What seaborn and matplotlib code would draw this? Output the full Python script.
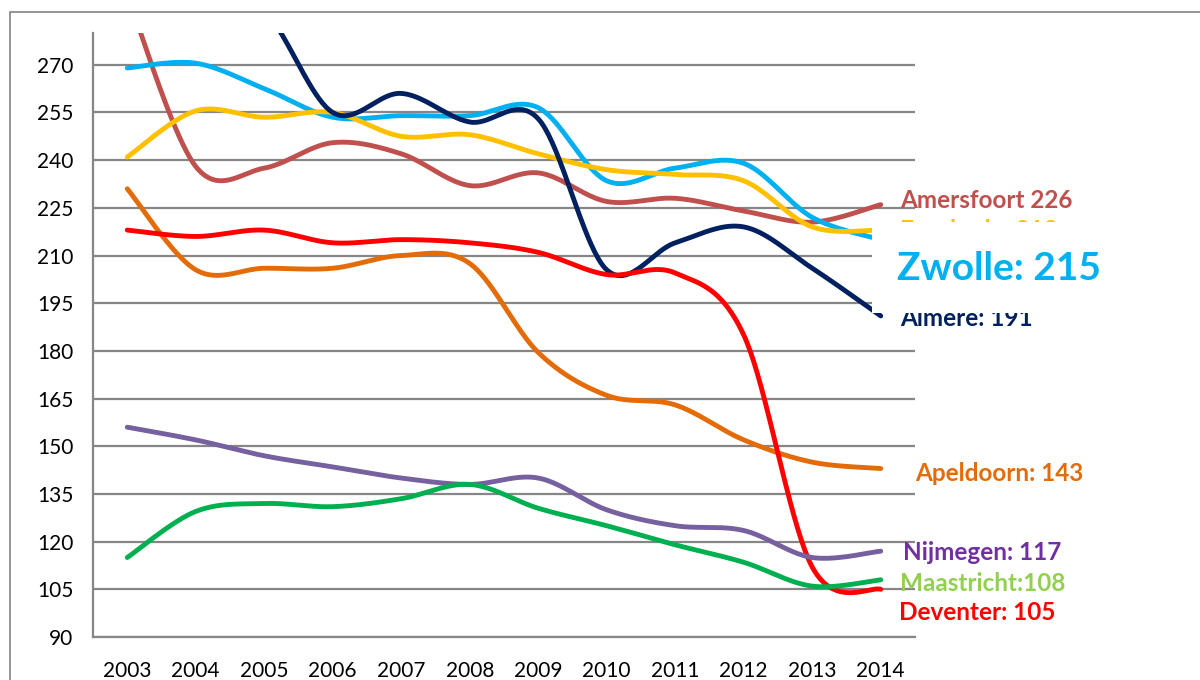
import numpy as np
import pandas as pd
import matplotlib
matplotlib.use("Agg")
import matplotlib.pyplot as plt
import seaborn as sns
from matplotlib.patches import Rectangle

# ---- data ----
years = list(range(2003, 2015))
amersfoort = [292, 238, 237.5, 245.5, 242, 232, 236, 227, 228, 224, 220.5, 226]
zwolle = [269, 270.5, 262.5, 253.5, 254, 254, 256.5, 233.5, 237.5, 239, 222, 215]
enschede = [241, 255.5, 253.5, 255, 247.5, 248, 242, 237, 235.5, 233.5, 219, 218]
almere = [300, 295, 287, 255, 261, 252, 253, 205.5, 214, 219, 206, 191]
apeldoorn = [231, 205.5, 206, 206, 210, 207.5, 179.5, 166, 163, 152, 145, 143]
deventer = [218, 216, 218, 214, 215, 214, 211, 204, 204.5, 185, 112, 105]
nijmegen = [156, 152, 147, 143.5, 140, 138, 140, 130, 125, 123.5, 115, 117]
maastricht = [115, 129.5, 132, 131, 133.5, 138, 130.5, 125, 119, 113.5, 106, 108]

series = {
    "Amersfoort": amersfoort, "Zwolle": zwolle, "Enschede": enschede,
    "Almere": almere, "Apeldoorn": apeldoorn, "Deventer": deventer,
    "Nijmegen": nijmegen, "Maastricht": maastricht,
}
line_colors = {
    "Amersfoort": "#C0504D", "Zwolle": "#00B0F0", "Enschede": "#FFC000",
    "Almere": "#002060", "Apeldoorn": "#E36C09", "Deventer": "#FF0000",
    "Nijmegen": "#7660A0", "Maastricht": "#00B050",
}
y_ticks = list(range(90, 271, 15))

# end labels: (text, colour, x pixel, baseline y value, size)
labels = [
    ("Enschede: 218", "#FFC000", 900, 215.5, 17.5),
    ("Almere: 191", "#002060", 900, 187.8, 17.5),
    ("Amersfoort 226", "#C0504D", 900, 225.0, 17.5),
    ("Zwolle: 215", "#00B0F0", 897, 202.3, 28),
    ("Apeldoorn: 143", "#E36C09", 915, 139.2, 17.5),
    ("Nijmegen: 117", "#7030A0", 903, 114.3, 17.5),
    ("Maastricht:108", "#92D050", 900, 104.4, 17.5),
    ("Deventer: 105", "#FF0000", 899, 95.4, 17.5),
]


def smooth(xs, ys, n=40):
    """Excel-like smoothed line (Catmull-Rom Bezier)."""
    xs = np.asarray(xs, float)
    ys = np.asarray(ys, float)
    P = np.column_stack([xs, ys])
    out = []
    m = len(P)
    for i in range(m - 1):
        p0 = P[i - 1] if i > 0 else P[i]
        p1 = P[i]
        p2 = P[i + 1]
        p3 = P[i + 2] if i + 2 < m else P[i + 1]
        c1 = p1 + (p2 - p0) / 6.0
        c2 = p2 - (p3 - p1) / 6.0
        t = np.linspace(0, 1, n, endpoint=(i == m - 2))[:, None]
        b = ((1 - t) ** 3) * p1 + 3 * ((1 - t) ** 2) * t * c1 + 3 * (1 - t) * t ** 2 * c2 + t ** 3 * p2
        out.append(b)
    out = np.vstack(out)
    return out[:, 0], out[:, 1]


rows = []
for name, vals in series.items():
    sx, sy = smooth(years, vals)
    for k, (a, b) in enumerate(zip(sx, sy)):
        rows.append({"city": name, "year": a, "value": b, "order": k})
df = pd.DataFrame(rows)

sns.set_style("white")
plt.rcParams["font.family"] = ["Lato", "DejaVu Sans"]

W, H = 1200, 680
fig = plt.figure(figsize=(12, 6.8), dpi=100)
ax = fig.add_axes([93 / W, 1 - 637 / H, (915 - 93) / W, (637 - 33) / H])

sns.lineplot(data=df, x="year", y="value", hue="city", palette=line_colors,
             hue_order=list(series.keys()), sort=False, estimator=None,
             units="city", legend=False, linewidth=3.5, ax=ax,
             solid_capstyle="round", zorder=3)

ax.set_xlim(2002.5, 2014.5)
ax.set_ylim(90, 280)
ax.set_yticks(y_ticks)
ax.set_yticklabels([str(v) for v in y_ticks])
ax.set_xticks(years)
ax.set_xticklabels([str(y) for y in years])
ax.set_xticks(np.arange(2002.5, 2015, 1.0), minor=True)
ax.set_xlabel("")
ax.set_ylabel("")

grey = "#868686"
ax.grid(axis="y", color=grey, linewidth=1.6)
ax.grid(axis="x", visible=False)
ax.set_axisbelow(True)
for s in ["top", "right"]:
    ax.spines[s].set_visible(False)
for s in ["left", "bottom"]:
    ax.spines[s].set_color(grey)
    ax.spines[s].set_linewidth(1.6)

ax.tick_params(axis="x", which="major", length=0, pad=17, labelsize=15, colors="black")
ax.tick_params(axis="x", which="minor", length=5.5, width=1.4, color=grey, direction="out")
ax.tick_params(axis="y", length=5, width=1.4, color=grey, direction="out", pad=9,
               labelsize=15, labelcolor="black")


def px_to_x(px):
    return 2002.5 + (px - 93) / ((915 - 93) / 12)


for text, col, px, yb, size in labels:
    z = 7 if text.startswith("Zwolle") else 4
    ax.text(px_to_x(px), yb, text, color=col, fontsize=size, fontweight="bold",
            ha="left", va="baseline", clip_on=False, zorder=z)

# white box behind the big Zwolle label (covers part of the other labels)
box = Rectangle((px_to_x(872), 191.9), px_to_x(1112) - px_to_x(872), 220.5 - 191.9,
                facecolor="white", edgecolor="none", zorder=6, clip_on=False)
ax.add_patch(box)

# outer chart frame
fig.add_artist(Rectangle((10 / W, -0.2), 1.5, 1 - 12 / H + 0.2, transform=fig.transFigure,
                         fill=False, edgecolor="#8c8c8c", linewidth=1.3))

fig.savefig("out.png", dpi=100)
